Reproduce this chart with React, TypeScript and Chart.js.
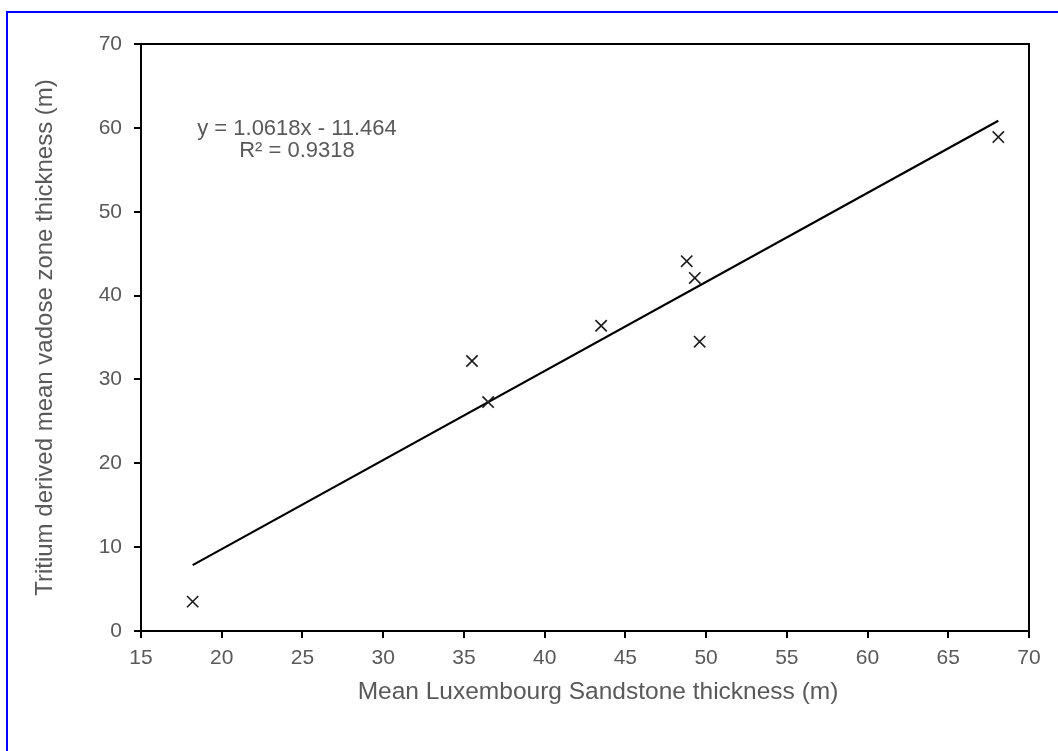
import React, { useEffect, useRef } from "react";
import { Chart, registerables } from "chart.js";

Chart.register(...registerables);

// ---- data ----
const xValues = [18.2, 35.5, 36.5, 43.5, 48.8, 49.3, 49.6, 68.1];
const yValues = [3.5, 32.2, 27.3, 36.4, 44.1, 42.1, 34.5, 58.9];
const trendX = [18.2, 68.1];
const trendY = [7.86, 60.85];
const xMin = 15;
const xMax = 70;
const xStep = 5;
const yMin = 0;
const yMax = 70;
const yStep = 10;
const equationLines = ["y = 1.0618x - 11.464", "R² = 0.9318"];
const xTitle = "Mean Luxembourg Sandstone thickness (m)";
const yTitle = "Tritium derived mean vadose zone thickness (m)";

const FONT = "'Liberation Sans', Arial, sans-serif";
const GRAY = "#595959";
const W = 1058;
const H = 751;

const framePlugin = {
  id: "framePlugin",
  beforeDraw(chart: any) {
    const ctx = chart.ctx;
    ctx.save();
    ctx.fillStyle = "#ffffff";
    ctx.fillRect(0, 0, chart.width, chart.height);
    ctx.strokeStyle = "#0000ff";
    ctx.lineWidth = 2;
    ctx.strokeRect(7, 12, chart.width + 20, chart.height + 20);
    ctx.restore();
  },
  afterDraw(chart: any) {
    const ctx = chart.ctx;
    const a = chart.chartArea;
    ctx.save();
    ctx.strokeStyle = "#000000";
    ctx.lineWidth = 2;
    ctx.strokeRect(a.left, a.top, a.right - a.left, a.bottom - a.top);
    ctx.fillStyle = GRAY;
    ctx.textAlign = "center";
    ctx.textBaseline = "middle";
    ctx.font = `22px ${FONT}`;
    ctx.fillText(equationLines[0], 297, 129);
    ctx.fillText(equationLines[1], 297, 151);
    ctx.font = `24.5px ${FONT}`;
    ctx.fillText(xTitle, 598, 692);
    ctx.restore();
  },
};

export default function App() {
  const ref = useRef<HTMLCanvasElement>(null);

  useEffect(() => {
    if (!ref.current) return;
    const chart = new Chart(ref.current, {
      type: "scatter",
      data: {
        datasets: [
          {
            label: "Data",
            data: xValues.map((x, i) => ({ x, y: yValues[i] })),
            pointStyle: "crossRot",
            pointRadius: 8,
            pointHoverRadius: 8,
            borderColor: "#1a1a1a",
            backgroundColor: "#1a1a1a",
            borderWidth: 1.6,
            showLine: false,
          },
          {
            label: "Trend",
            data: trendX.map((x, i) => ({ x, y: trendY[i] })),
            showLine: true,
            pointRadius: 0,
            borderColor: "#000000",
            borderWidth: 2.2,
            fill: false,
          },
        ],
      },
      plugins: [framePlugin],
      options: {
        animation: false,
        responsive: false,
        devicePixelRatio: 1,
        layout: { padding: { left: 0, top: 44, right: 29, bottom: 0 } },
        plugins: {
          legend: { display: false },
          tooltip: { enabled: false },
        },
        scales: {
          x: {
            type: "linear",
            min: xMin,
            max: xMax,
            afterFit(s: any) {
              s.height = H - 631;
            },
            ticks: {
              stepSize: xStep,
              color: GRAY,
              font: { family: FONT, size: 21 },
              padding: 8,
            },
            grid: {
              display: true,
              drawOnChartArea: false,
              drawTicks: true,
              tickLength: 7,
              color: "#000000",
              lineWidth: 2,
            },
            border: { display: true, color: "#000000", width: 2 },
            title: { display: false, text: xTitle },
          },
          y: {
            type: "linear",
            min: yMin,
            max: yMax,
            afterFit(s: any) {
              s.width = 141;
            },
            ticks: {
              stepSize: yStep,
              color: GRAY,
              font: { family: FONT, size: 21 },
              padding: 12,
            },
            grid: {
              display: true,
              drawOnChartArea: false,
              drawTicks: true,
              tickLength: 7,
              color: "#000000",
              lineWidth: 2,
            },
            border: { display: true, color: "#000000", width: 2 },
            title: {
              display: true,
              text: yTitle,
              color: GRAY,
              font: { family: FONT, size: 24 },
              padding: { top: 31, bottom: 0 },
            },
          },
        },
      },
    });
    return () => chart.destroy();
  }, []);

  return (
    <div style={{ position: "absolute", left: 0, top: 0, width: W, height: H }}>
      <canvas ref={ref} width={W} height={H} style={{ display: "block" }} />
    </div>
  );
}
